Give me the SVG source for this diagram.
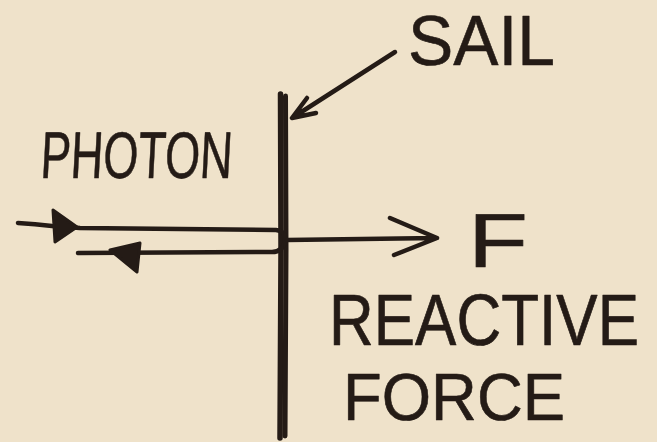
<svg xmlns="http://www.w3.org/2000/svg" width="657" height="442" viewBox="0 0 657 442">
<style>
.ink{fill:none;stroke:#241b16;stroke-linecap:round;stroke-linejoin:round}
.head{fill:#241b16;stroke:#241b16;stroke-width:3;stroke-linejoin:round}
.lbl{font-family:"Liberation Sans","DejaVu Sans",sans-serif;fill:#241b16;stroke:#241b16;stroke-width:0.6;stroke-linejoin:round}
</style>
<rect width="657" height="442" fill="#efe2ca"/>
<g id="sail">
<path class="ink" d="M280.5 94 L281 250 L280 438" stroke-width="5.5"/>
<path class="ink" d="M285.5 96 L286 250 L285 436" stroke-width="5"/>
</g>
<g id="labels">
<text class="lbl" x="408" y="65" font-size="70" textLength="147" lengthAdjust="spacingAndGlyphs">SAIL</text>
<text class="lbl" x="40" y="178" font-size="66" textLength="192" lengthAdjust="spacingAndGlyphs" transform="skewX(-3) translate(9,0)">PHOTON</text>
<text class="lbl" x="468" y="267" font-size="76" textLength="60" lengthAdjust="spacingAndGlyphs">F</text>
<text class="lbl" x="0" y="0" font-size="64" textLength="310" lengthAdjust="spacingAndGlyphs" transform="translate(329,345) scale(1,1.12)">REACTIVE</text>
<text class="lbl" x="343" y="420" font-size="66" textLength="222" lengthAdjust="spacingAndGlyphs">FORCE</text>
</g>
<g id="connectors">
<path class="ink" stroke-width="4.5" d="M395 52 L292 118 M307 98 L292 118 L316 113"/>
<path class="ink" stroke-width="4.5" d="M18 223 Q35 224 52 226 L80 228 L276 230 Q286 231 285 241 Q283 252 272 252 L78 253"/>
<polygon class="head" points="53,210 77,227 55,242"/>
<polygon class="head" points="110,250 140,243 137,272"/>
<path class="ink" stroke-width="4.5" d="M287 240 L437 238 M390 218 L437 238 L394 255"/>
</g>
</svg>
